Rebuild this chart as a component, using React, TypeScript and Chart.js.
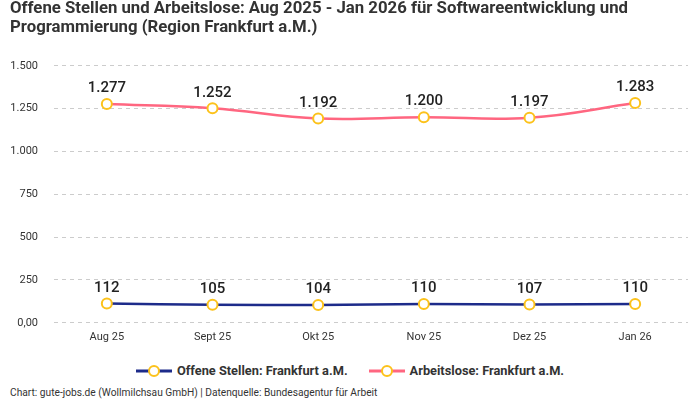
import React, { useEffect, useRef } from "react";
import { Chart, registerables } from "chart.js";

Chart.register(...registerables);

const categories = ["Aug 25", "Sept 25", "Okt 25", "Nov 25", "Dez 25", "Jan 26"];
const offeneStellen = [112, 105, 104, 110, 107, 110];
const arbeitslose = [1277, 1252, 1192, 1200, 1197, 1283];
const yTicks = [0, 250, 500, 750, 1000, 1250, 1500];
const seriesNames = ["Offene Stellen: Frankfurt a.M.", "Arbeitslose: Frankfurt a.M."];
const titleLines = [
  "Offene Stellen und Arbeitslose: Aug 2025 - Jan 2026 für Softwareentwicklung und",
  "Programmierung (Region Frankfurt a.M.)",
];
const footerText = "Chart: gute-jobs.de (Wollmilchsau GmbH) | Datenquelle: Bundesagentur für Arbeit";

const FONT = "Roboto, 'Noto Sans', sans-serif";
const NAVY = "#1d2b8a";
const PINK = "#ff6680";
const YELLOW = "#fcc21b";
const colors = [NAVY, PINK];

const valueLabels = {
  id: "valueLabels",
  afterDatasetsDraw(chart: any) {
    const ctx = chart.ctx;
    ctx.save();
    ctx.font = `500 15px ${FONT}`;
    ctx.fillStyle = "#222";
    ctx.textAlign = "center";
    ctx.textBaseline = "bottom";
    chart.data.datasets.forEach((ds: any, i: number) => {
      const meta = chart.getDatasetMeta(i);
      meta.data.forEach((pt: any, j: number) => {
        const v = ds.data[j] as number;
        ctx.fillText(v.toLocaleString("de-DE"), pt.x, pt.y - 8);
      });
    });
    ctx.restore();
  },
};

function LegendIcon({ color }: { color: string }) {
  return (
    <svg width={36} height={14} style={{ display: "block" }}>
      <line x1={0} y1={7} x2={36} y2={7} stroke={color} strokeWidth={3} />
      <circle cx={18} cy={7} r={5} fill="#fff" stroke={YELLOW} strokeWidth={2} />
    </svg>
  );
}

export default function App() {
  const ref = useRef<HTMLCanvasElement>(null);
  useEffect(() => {
    const mk = (i: number, data: number[]) => ({
      label: seriesNames[i],
      data,
      borderColor: colors[i],
      backgroundColor: colors[i],
      borderWidth: 2.5,
      tension: 0.4,
      pointRadius: 5,
      pointBackgroundColor: "#fff",
      pointBorderColor: YELLOW,
      pointBorderWidth: 2,
    });
    const chart = new Chart(ref.current!, {
      type: "line",
      data: {
        labels: categories,
        datasets: [mk(0, offeneStellen), mk(1, arbeitslose)],
      },
      options: {
        animation: false,
        responsive: false,
        maintainAspectRatio: false,
        layout: { padding: { left: 10, right: 12, top: 0, bottom: 7 } },
        plugins: {
          title: {
            display: true,
            text: titleLines,
            align: "start",
            color: "#333",
            font: { family: FONT, size: 16.75, weight: "bold", lineHeight: 1.1 },
            padding: { top: 0, bottom: 29 },
          },
          legend: { display: false },
          tooltip: { enabled: false },
        },
        scales: {
          x: {
            offset: true,
            grid: { display: false, tickLength: 0 },
            border: { display: false },
            ticks: { color: "#333", font: { family: FONT, size: 11 }, padding: 8 },
          },
          y: {
            min: 0,
            max: 1500,
            afterBuildTicks: (axis: any) => {
              axis.ticks = yTicks.map((v) => ({ value: v }));
            },
            afterFit: (axis: any) => {
              axis.width = 44;
            },
            grid: { color: "#cccccc", tickLength: 0 },
            border: { display: false, dash: [4, 4] },
            ticks: {
              color: "#333",
              font: { family: FONT, size: 11 },
              padding: 16,
              callback: (v: any) => (v === 0 ? "0,00" : Number(v).toLocaleString("de-DE")),
            },
          },
        },
      },
      plugins: [valueLabels],
    });
    return () => chart.destroy();
  }, []);
  return (
    <div
      style={{
        position: "absolute",
        left: 0,
        top: 0,
        width: 700,
        height: 400,
        background: "#fff",
        fontFamily: FONT,
        color: "#333",
      }}
    >
      <canvas ref={ref} width={700} height={359} style={{ width: 700, height: 359, display: "block" }} />
      <div
        style={{
          position: "absolute",
          top: 362,
          left: 0,
          width: 700,
          height: 18,
          display: "flex",
          justifyContent: "center",
          alignItems: "center",
          gap: 21,
        }}
      >
        {seriesNames.map((name, i) => (
          <div key={name} style={{ display: "flex", alignItems: "center", gap: 5 }}>
            <LegendIcon color={colors[i]} />
            <span style={{ fontSize: 12.8, fontWeight: "bold", lineHeight: "18px", color: "#333" }}>{name}</span>
          </div>
        ))}
      </div>
      <div
        style={{
          position: "absolute",
          top: 387,
          left: 10,
          fontSize: 10.2,
          lineHeight: "12px",
          color: "#333",
          whiteSpace: "nowrap",
        }}
      >
        {footerText}
      </div>
    </div>
  );
}
